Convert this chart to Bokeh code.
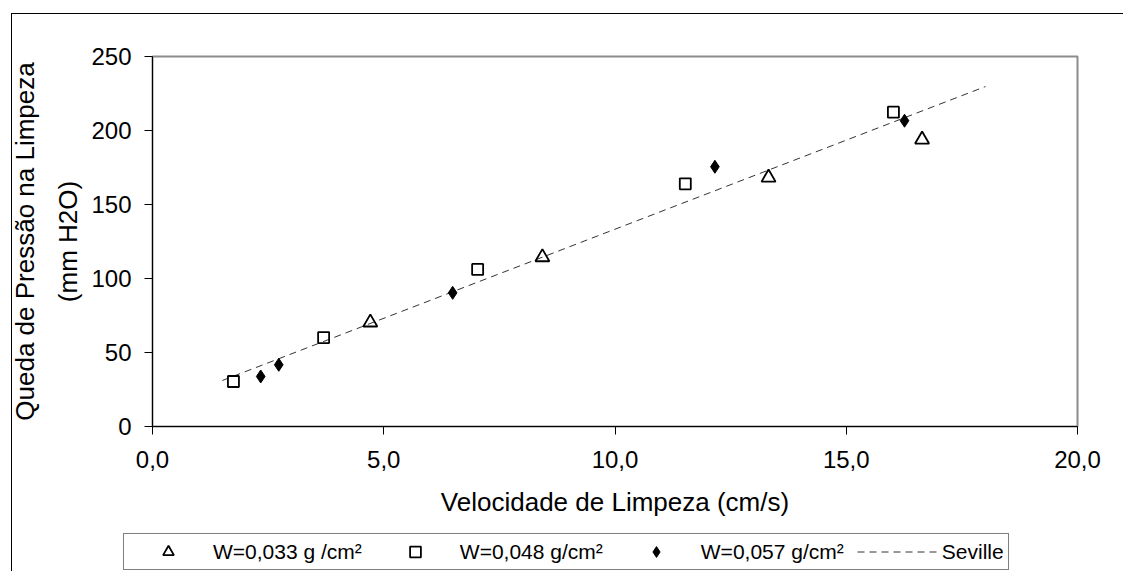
from bokeh.plotting import figure
from bokeh.models import FixedTicker, Legend, LegendItem, InlineStyleSheet, Range1d
from bokeh.layouts import column
from bokeh.embed import file_html
from bokeh.resources import INLINE

# Data
x_033 = [4.71, 8.43, 13.32, 16.64]
y_033 = [70.3, 114.4, 168.2, 193.9]

x_048 = [1.75, 3.70, 7.03, 11.52, 16.02]
y_048 = [30.4, 60.1, 106.1, 164.0, 212.4]

x_057 = [2.34, 2.73, 6.49, 12.16, 16.26]
y_057 = [33.8, 41.7, 90.3, 175.5, 206.6]

x_seville = [1.51, 18.01]
y_seville = [31.1, 229.7]

x_ticks = [0, 5, 10, 15, 20]
x_tick_labels = ["0,0", "5,0", "10,0", "15,0", "20,0"]
y_ticks = [0, 50, 100, 150, 200, 250]

labels = ["W=0,033 g /cm²", "W=0,048 g/cm²", "W=0,057 g/cm²", "Seville"]

FONT = "Liberation Sans"

TRI = dict(marker="triangle", size=14, fill_color=None, line_color="black", line_width=1.8)
SQ = dict(marker="square", size=11, fill_color=None, line_color="black", line_width=1.8)
DI = dict(marker="diamond", size=13, fill_color="black", line_color="black", line_width=1)
LN = dict(line_color="#333333", line_width=1, line_dash="7 5")

p = figure(width=1123, height=533, output_backend="svg", toolbar_location=None,
           x_range=(0, 20), y_range=(0, 250),
           min_border_left=152, min_border_right=46, min_border_top=56, min_border_bottom=107)
p.frame_align = False

p.xgrid.visible = False
p.ygrid.visible = False
p.outline_line_color = "#8c8c8c"
p.outline_line_width = 2
p.background_fill_color = "white"
p.border_fill_color = "white"

p.line(x_seville, y_seville, **LN)
p.scatter(x_033, y_033, **TRI)
p.scatter(x_048, y_048, **SQ)
p.scatter(x_057, y_057, **DI)

# axes
p.xaxis.ticker = FixedTicker(ticks=x_ticks)
p.xaxis.major_label_overrides = {t: l for t, l in zip(x_ticks, x_tick_labels)}
p.yaxis.ticker = FixedTicker(ticks=y_ticks)
for ax in (p.xaxis[0], p.yaxis[0]):
    ax.minor_tick_line_color = None
    ax.major_tick_in = 0
    ax.major_tick_out = 8
    ax.axis_line_color = "black"
    ax.major_tick_line_color = "black"
    ax.major_label_text_font = FONT
    ax.major_label_text_font_size = "24px"
    ax.major_label_text_color = "black"
    ax.axis_label_text_font = FONT
    ax.axis_label_text_font_size = "26px"
    ax.axis_label_text_font_style = "normal"
    ax.axis_label_text_color = "black"

p.xaxis.axis_label = "Velocidade de Limpeza (cm/s)"
p.xaxis.major_label_standoff = 16
p.xaxis.axis_label_standoff = 16
p.yaxis.axis_label = "Queda de Pressão na Limpeza\n(mm H2O)"
p.yaxis.major_label_standoff = 13
p.yaxis.axis_label_standoff = 5
p.yaxis.axis_label_text_line_height = 1.45

# legend strip (separate figure so the legend is not clipped by the main frame);
# its renderers reuse the series, kept outside this strip's visible ranges
pl = figure(width=1123, height=38, output_backend="svg", toolbar_location=None,
            x_range=Range1d(1000, 1001), y_range=Range1d(1000, 1001),
            x_axis_location=None, y_axis_location=None,
            min_border_left=123, min_border_right=100, min_border_top=0, min_border_bottom=0)
pl.frame_align = False
pl.grid.visible = False
pl.outline_line_color = None
pl.background_fill_color = None
pl.border_fill_color = None
lr_t = pl.scatter(x_033, y_033, **TRI)
lr_s = pl.scatter(x_048, y_048, **SQ)
lr_d = pl.scatter(x_057, y_057, **DI)
lr_l = pl.line(x_seville, y_seville, **LN)

legend = Legend(items=[
    LegendItem(label=labels[0], renderers=[lr_t]),
    LegendItem(label=labels[1], renderers=[lr_s]),
    LegendItem(label=labels[2], renderers=[lr_d]),
    LegendItem(label=labels[3], renderers=[lr_l]),
], orientation="horizontal", location="top_left")
legend.glyph_width = 80
legend.glyph_height = 27
legend.label_standoff = 5
legend.spacing = 13
legend.padding = 4
legend.margin = 0
legend.border_line_color = "black"
legend.border_line_width = 1
legend.background_fill_color = "white"
legend.background_fill_alpha = 1
legend.label_text_font = FONT
legend.label_text_font_size = "21px"
legend.label_text_color = "black"
pl.add_layout(legend, "center")

layout = column(p, pl, spacing=0)
layout.styles = {"background-color": "white"}

# outer chart-area border (only the top and left edges are inside the window)
layout.stylesheets = [InlineStyleSheet(css="""
:host { position: relative; }
:host::after {
  content: "";
  position: absolute;
  left: 11px; top: 13px; right: 0; bottom: 0;
  border-left: 1px solid black;
  border-top: 1px solid black;
  pointer-events: none;
  z-index: 10;
}
""")]

open("out.html", "w").write(file_html(layout, INLINE))
